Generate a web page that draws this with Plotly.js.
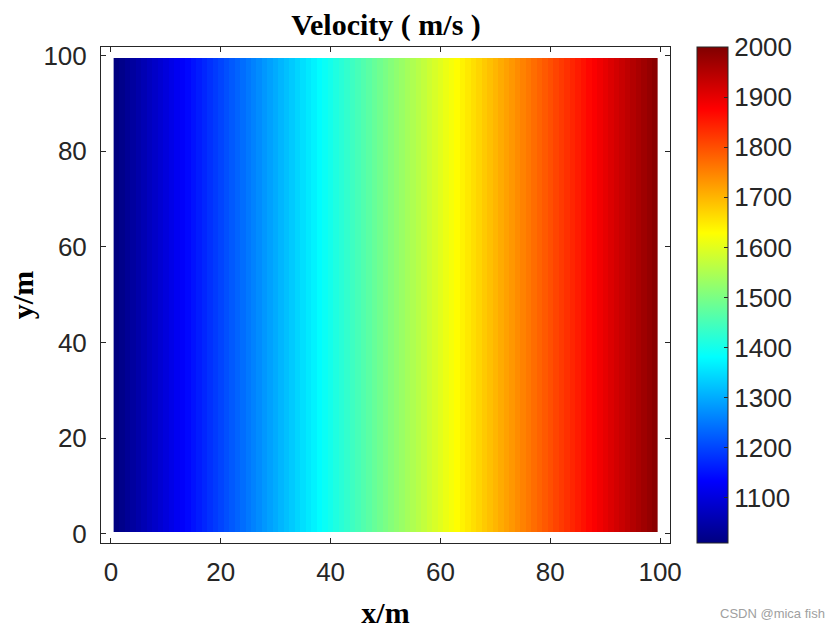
<!DOCTYPE html>
<html>
<head>
<meta charset="utf-8">
<script src="https://cdn.plot.ly/plotly-3.0.1.min.js"></script>
<style>html,body{margin:0;padding:0;background:#fff;}#chart{width:840px;height:630px;}</style>
</head>
<body>
<div id="chart"></div>
<script>
// x positions of the grid columns (m)
const xPos = [1,2,3,4,5,6,7,8,9,10,11,12,13,14,15,16,17,18,19,20,21,22,23,24,25,26,27,28,29,30,
  31,32,33,34,35,36,37,38,39,40,41,42,43,44,45,46,47,48,49,50,51,52,53,54,55,56,57,58,59,60,
  61,62,63,64,65,66,67,68,69,70,71,72,73,74,75,76,77,78,79,80,81,82,83,84,85,86,87,88,89,90,
  91,92,93,94,95,96,97,98,99];
// y extent of the model (cell edges, m)
const yEdges = [0.5, 99.5];
// velocity per column (m/s)
const velocity = [1010,1020,1030,1040,1050,1060,1070,1080,1090,1100,1110,1120,1130,1140,1150,1160,1170,1180,1190,1200,
  1210,1220,1230,1240,1250,1260,1270,1280,1290,1300,1310,1320,1330,1340,1350,1360,1370,1380,1390,1400,
  1410,1420,1430,1440,1450,1460,1470,1480,1490,1500,1510,1520,1530,1540,1550,1560,1570,1580,1590,1600,
  1610,1620,1630,1640,1650,1660,1670,1680,1690,1700,1710,1720,1730,1740,1750,1760,1770,1780,1790,1800,
  1810,1820,1830,1840,1850,1860,1870,1880,1890,1900,1910,1920,1930,1940,1950,1960,1970,1980,1990];
const colorbarTicks = [1100,1200,1300,1400,1500,1600,1700,1800,1900,2000];
const axisTicks = [0,20,40,60,80,100];

const jet = [
  [0, 'rgb(0,0,128)'],
  [0.125, 'rgb(0,0,255)'],
  [0.375, 'rgb(0,255,255)'],
  [0.625, 'rgb(255,255,0)'],
  [0.875, 'rgb(255,0,0)'],
  [1, 'rgb(128,0,0)']
];

const axisColor = '#262626';
const tickFont = {family: 'Arial, Liberation Sans, sans-serif', size: 26, color: axisColor};
const labelFont = {family: 'Liberation Serif, Times New Roman, serif', size: 30, color: '#000'};

const trace = {
  type: 'heatmap',
  x: xPos,
  y: yEdges,
  z: [velocity],
  zmin: 1010,
  zmax: 2000,
  colorscale: jet,
  zsmooth: false,
  hoverinfo: 'skip',
  colorbar: {
    x: 1.0475, xanchor: 'left',
    y: 0.5, yanchor: 'middle',
    len: 1, lenmode: 'fraction',
    thickness: 31, thicknessmode: 'pixels',
    outlinewidth: 1, outlinecolor: axisColor,
    xpad: 0, ypad: 0,
    tickmode: 'array', tickvals: colorbarTicks,
    ticks: 'inside', ticklen: 4, tickcolor: axisColor,
    tickfont: tickFont,
    ticklabelstandoff: 7
  }
};

const layout = {
  width: 840, height: 630,
  margin: {l: 101, r: 170, t: 47, b: 87},
  paper_bgcolor: '#fff', plot_bgcolor: '#fff',
  title: {text: '<b>Velocity ( m/s )</b>', font: labelFont, x: 0.4595, xanchor: 'center', y: 0.961, yanchor: 'middle'},
  xaxis: {
    range: [-1.8, 101.8], tickmode: 'array', tickvals: axisTicks,
    ticks: 'inside', ticklen: 5, tickcolor: axisColor,
    showline: true, linecolor: axisColor, linewidth: 1, mirror: 'ticks',
    showgrid: false, zeroline: false, tickfont: tickFont,
    ticklabelstandoff: 6,
    title: {text: '<b>x/m</b>', font: labelFont, standoff: 15}
  },
  yaxis: {
    range: [-1.9, 101.8], tickmode: 'array', tickvals: axisTicks,
    ticks: 'inside', ticklen: 5, tickcolor: axisColor,
    showline: true, linecolor: axisColor, linewidth: 1, mirror: 'ticks',
    showgrid: false, zeroline: false, tickfont: tickFont,
    ticklabelstandoff: 8,
    title: {text: '<b>y/m</b>', font: labelFont, standoff: 0}
  },
  annotations: [{
    text: 'CSDN @mica fish', xref: 'paper', yref: 'paper',
    x: 1.276, y: -0.143, xanchor: 'right', yanchor: 'middle', showarrow: false,
    font: {family: 'Arial, Liberation Sans, sans-serif', size: 13, color: '#a0a0a0'}
  }]
};

Plotly.newPlot('chart', [trace], layout, {displayModeBar: false, staticPlot: true});
</script>
</body>
</html>
